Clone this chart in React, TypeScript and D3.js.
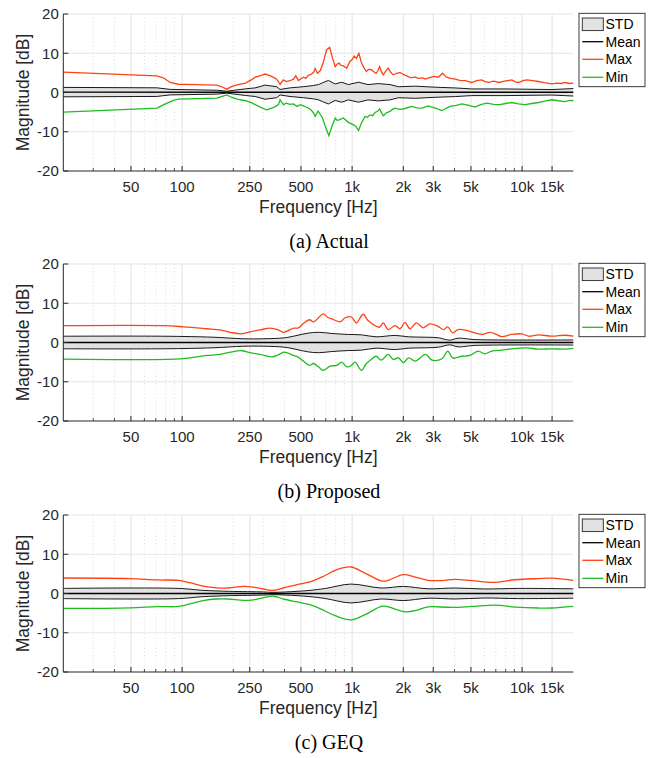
import * as d3 from 'd3'

// frequency [Hz] / magnitude [dB] pairs
const maxA: [number, number][] = [
  [20, 5.2], [71, 4.25], [78, 3.7], [85, 2.55], [95, 2.1], [120, 2.0], [160, 1.9], [172, 1.4], [183, 0.85],
  [195, 1.5], [210, 1.95], [236, 2.4], [255, 3.2], [269, 3.9], [290, 4.3], [308, 4.7], [322, 4.4], [336, 4.1],
  [360, 3.4], [377, 2.1], [394, 3.2], [410, 2.8], [430, 3.0], [452, 3.4], [466, 4.25], [483, 3.05],
  [500, 3.5], [517, 3.9], [535, 3.6], [550, 4.3], [578, 4.7], [595, 5.2], [606, 6.1],
  [624, 4.9], [650, 5.6], [675, 7.5], [695, 9.6], [708, 10.9], [737, 11.5], [767, 8.75], [795, 6.6], [815, 7.2], [838, 7.5],
  [860, 6.9], [888, 6.8], [928, 6.2], [970, 7.9], [1000, 8.4], [1028, 9.3], [1060, 8.7], [1096, 10.0], [1135, 7.6],
  [1170, 6.4], [1212, 5.35], [1250, 5.9], [1296, 5.8], [1340, 5.3], [1384, 4.9], [1420, 5.6], [1450, 6.6],
  [1490, 5.2], [1525, 4.5], [1580, 5.5], [1630, 6.2], [1690, 5.1], [1745, 4.5], [1830, 4.9], [1914, 5.1],
  [2000, 4.6], [2095, 4.25], [2200, 3.8], [2352, 3.9], [2450, 3.6], [2600, 3.7], [2703, 3.4], [2850, 3.8],
  [3032, 4.1], [3220, 3.9], [3400, 4.9], [3590, 3.9], [3800, 3.6], [4038, 3.4], [4300, 3.1],
  [4640, 3.05], [4850, 2.8], [5056, 2.55], [5400, 3.0], [5790, 3.2], [6050, 2.8], [6340, 2.6],
  [6800, 2.9], [7290, 2.55], [7900, 2.9], [8690, 3.2], [9100, 2.7], [9530, 2.55], [10100, 3.0],
  [10670, 3.2], [11500, 3.0], [12470, 2.8], [13500, 2.5], [14970, 2.2], [16000, 2.4],
  [17000, 2.3], [17870, 2.55], [19000, 2.3], [20000, 2.4],
]
const minA: [number, number][] = [
  [20, -5.0], [71, -4.0], [78, -3.1], [89, -2.0], [95, -1.7], [160, -1.45], [172, -1.0], [183, -0.6],
  [195, -1.2], [210, -1.7], [236, -2.1], [255, -2.6], [269, -3.1], [290, -3.8], [314, -4.4], [330, -4.1],
  [346, -3.8], [369, -3.1], [377, -1.85], [394, -3.1], [410, -2.7], [430, -3.0], [452, -2.9], [474, -3.55],
  [495, -3.1], [517, -3.4], [535, -3.7], [550, -3.9], [578, -4.6], [595, -5.3],
  [606, -6.1], [630, -4.7], [670, -6.5], [690, -8.2], [708, -9.5], [730, -11.0], [760, -8.65], [795, -6.5],
  [815, -7.1], [838, -6.95], [888, -6.5], [950, -7.6], [1014, -8.2], [1050, -8.6], [1090, -9.7], [1135, -7.8], [1190, -6.1],
  [1230, -6.3], [1274, -5.7], [1320, -5.9], [1363, -5.1], [1410, -4.8], [1450, -4.2], [1490, -5.2], [1525, -5.9],
  [1600, -5.1], [1670, -4.8], [1730, -4.3], [1790, -4.0], [1900, -4.3],
  [2004, -4.2], [2240, -3.55], [2400, -3.9], [2578, -4.0], [2800, -3.4], [3090, -4.0],
  [3374, -4.6], [3758, -3.55], [4100, -3.3], [4420, -2.9], [4800, -3.2], [5275, -3.7],
  [5700, -3.1], [6200, -2.7], [6800, -3.0], [7410, -3.1], [8000, -2.8], [8690, -2.55],
  [9500, -2.9], [10410, -3.1], [11400, -2.8], [12470, -2.55], [13600, -2.2], [14970, -1.85],
  [16300, -2.1], [17870, -2.3], [19000, -2.0], [20000, -2.1],
]
const stdA: [number, number][] = [
  [20, 1.2], [71, 1.1], [85, 0.7], [160, 0.5], [183, 0.25], [236, 0.85], [269, 1.1], [308, 1.8],
  [360, 1.4], [377, 0.7], [431, 1.1], [517, 1.4], [592, 1.7], [634, 1.95], [670, 2.4], [725, 3.0],
  [795, 2.1], [868, 2.55], [950, 1.95], [1090, 2.55], [1240, 1.95], [1425, 2.2], [1670, 1.95],
  [1875, 1.4], [2352, 1.55], [3032, 1.3], [4038, 1.1], [5056, 0.85], [7930, 0.85],
  [14970, 0.7], [20000, 0.95],
]
const maxB: [number, number][] = [
  [20, 4.3], [78, 4.3], [102, 4.0], [140, 3.5], [167, 3.2], [192, 2.6], [224, 2.2], [251, 2.7],
  [287, 3.2], [329, 3.65], [368, 3.2], [394, 2.6], [452, 3.65], [483, 3.7], [517, 4.85],
  [561, 5.8], [592, 5.25], [634, 6.3], [675, 7.3], [725, 6.3], [777, 5.85], [850, 5.25],
  [910, 6.3], [990, 6.5], [1060, 5.0], [1160, 7.2], [1240, 5.6], [1363, 4.3], [1450, 3.9],
  [1525, 5.0], [1630, 3.3], [1790, 4.3], [1914, 3.5], [2043, 5.15], [2190, 3.5], [2394, 5.0],
  [2619, 3.75], [2870, 4.75], [3146, 4.3], [3450, 3.3], [3650, 4.0], [3900, 2.45], [4197, 3.3],
  [4883, 2.9], [5275, 2.45], [5790, 2.05], [6480, 2.6], [7050, 2.05], [7580, 1.5], [8690, 2.05],
  [9960, 2.2], [10900, 1.6], [12470, 1.95], [14970, 1.6], [17870, 1.85], [20000, 1.6],
]
const minB: [number, number][] = [
  [20, -4.25], [90, -4.25], [111, -3.9], [140, -3.3], [167, -3.05], [192, -2.45], [224, -2.1],
  [251, -2.6], [287, -3.05], [336, -3.65], [368, -3.15], [397, -2.45], [452, -3.3], [483, -3.8],
  [517, -4.75], [561, -5.85], [592, -5.35], [634, -6.2], [675, -7.1], [743, -6.0], [813, -5.85],
  [868, -5.0], [928, -6.2], [990, -5.85], [1042, -5.0], [1135, -7.1], [1212, -5.35],
  [1296, -4.3], [1384, -3.5], [1484, -4.5], [1630, -3.05], [1745, -4.3], [1875, -3.9],
  [2004, -5.15], [2145, -3.9], [2352, -4.75], [2703, -3.05], [2950, -4.5], [3374, -4.15],
  [3650, -2.2], [3900, -3.9], [4420, -3.5], [4930, -3.3], [5530, -2.2], [6020, -2.9],
  [6620, -2.2], [7580, -1.95], [8690, -1.6], [10670, -1.35], [12470, -1.7], [14970, -1.6],
  [17870, -1.7], [20000, -1.5],
]
const stdB: [number, number][] = [
  [20, 1.6], [78, 1.6], [152, 1.35], [230, 0.95], [300, 0.95], [400, 1.2], [474, 1.8],
  [552, 2.4], [640, 2.6], [760, 2.3], [950, 2.05], [1135, 1.95], [1384, 1.45], [1790, 1.8],
  [2145, 1.45], [2703, 1.35], [3220, 1.2], [3758, 0.6], [4197, 1.1], [5275, 0.75],
  [20000, 0.65],
]
const maxC: [number, number][] = [
  [20, 3.95], [49.5, 3.8], [71, 3.45], [95, 3.35], [111, 2.75], [133, 1.9], [160, 1.45],
  [187, 1.4], [230, 1.8], [263, 1.6], [301, 1.15], [346, 0.8], [394, 1.4], [474, 2.25],
  [565, 2.95], [680, 4.4], [795, 5.9], [982, 6.75], [1190, 5.2], [1484, 3.2], [1590, 3.2],
  [2004, 4.8], [2352, 4.2], [2800, 3.35], [3374, 3.3], [4038, 3.6], [5056, 3.3], [6940, 2.85],
  [9100, 3.5], [12470, 3.8], [14970, 3.9], [20000, 3.35],
]
const minC: [number, number][] = [
  [20, -3.8], [49.5, -3.65], [71, -3.35], [95, -3.3], [111, -2.65], [133, -1.8], [160, -1.4],
  [187, -1.4], [230, -1.75], [263, -1.6], [301, -1.05], [346, -0.7], [394, -1.4], [474, -2.15],
  [565, -2.85], [680, -4.3], [795, -5.65], [990, -6.7], [1190, -5.4], [1484, -3.3],
  [1590, -3.3], [2043, -4.65], [2450, -4.15], [2800, -3.4], [3850, -3.55], [5056, -3.3],
  [6940, -2.95], [9100, -3.45], [12470, -3.7], [14970, -3.7], [20000, -3.3],
]
const stdC: [number, number][] = [
  [20, 1.3], [95, 1.3], [133, 0.8], [190, 0.55], [301, 0.4], [346, 0.3], [474, 0.55],
  [565, 0.8], [700, 1.3], [982, 2.4], [1484, 1.4], [2004, 1.8], [2800, 1.2], [4038, 1.4],
  [6000, 1.15], [9530, 1.3], [20000, 1.2],
]
const meanA: [number, number][] = [[20, 0.1], [20000, 0.05]]
const meanB: [number, number][] = [[20, 0.0], [20000, 0.0]]
const meanC: [number, number][] = [[20, 0.0], [20000, 0.0]]

const FREQ_TICKS = [50, 100, 250, 500, 1000, 2000, 3000, 5000, 10000, 15000]
const FREQ_LABELS = ['50', '100', '250', '500', '1k', '2k', '3k', '5k', '10k', '15k']
const DB_TICKS = [-20, -10, 0, 10, 20]
const LEGEND = ['STD', 'Mean', 'Max', 'Min']
const CAPTIONS = ['(a) Actual', '(b) Proposed', '(c) GEQ']

const W = 654
const H = 758
const LEFT = 63.3
const RIGHT = 573.3
const TOP = 14
const BOTTOM = 171
const OFFSETS = [0, 250, 501]
const RED = '#ff4216'
const GREEN = '#1fbd1f'
const AX = '#262626'
const SANS = '"Liberation Sans", Arial, Helvetica, sans-serif'

type Series = [number, number][]

const x = d3.scaleLog().domain([20, 20000]).range([LEFT, RIGHT])
const y = d3.scaleLinear().domain([-20, 20]).range([BOTTOM, TOP])
const minorTicks = x.ticks().filter((t) => !FREQ_TICKS.includes(t) && t > 20 && t < 20000)

const Panel = ({
  offset, maxS, minS, stdS, meanS, caption, smooth,
}: {
  offset: number; maxS: Series; minS: Series; stdS: Series; meanS: Series; caption: string; smooth: boolean
}) => {
  const curve = smooth ? d3.curveCatmullRom.alpha(0.5) : d3.curveLinear
  const meanAt = d3.scaleLog().domain(meanS.map((d) => d[0])).range(meanS.map((d) => d[1]))
  const line = d3.line<[number, number]>().x((d) => x(d[0])).y((d) => y(d[1])).curve(curve)
  const area = d3.area<[number, number]>()
    .x((d) => x(d[0]))
    .y0((d) => y(meanAt(d[0]) - d[1]))
    .y1((d) => y(meanAt(d[0]) + d[1]))
    .curve(curve)
  const upper = stdS.map((d) => [d[0], meanAt(d[0]) + d[1]] as [number, number])
  const lower = stdS.map((d) => [d[0], meanAt(d[0]) - d[1]] as [number, number])
  const lx = 582.3
  const legY = [24.3, 41.7, 59.3, 77.3]

  return (
    <g transform={`translate(0, ${offset})`}>
      {/* grid */}
      {minorTicks.map((t) => (
        <line key={'m' + t} x1={x(t)} x2={x(t)} y1={TOP} y2={BOTTOM} stroke="#d4d4d4" strokeWidth={0.8} strokeDasharray="1 2.5" />
      ))}
      {FREQ_TICKS.map((t) => (
        <line key={'g' + t} x1={x(t)} x2={x(t)} y1={TOP} y2={BOTTOM} stroke="#e6e6e6" strokeWidth={1.2} />
      ))}
      {DB_TICKS.filter((t) => t > -20).map((t) => (
        <line key={'gy' + t} x1={LEFT} x2={RIGHT} y1={y(t)} y2={y(t)} stroke="#e6e6e6" strokeWidth={1.2} />
      ))}

      {/* data */}
      <path d={area(stdS) ?? ''} fill="#e2e2e2" />
      <path d={line(upper) ?? ''} fill="none" stroke="#000" strokeWidth={0.9} />
      <path d={line(lower) ?? ''} fill="none" stroke="#000" strokeWidth={0.9} />
      <path d={line(meanS) ?? ''} fill="none" stroke="#000" strokeWidth={1.4} />
      <path d={line(maxS) ?? ''} fill="none" stroke={RED} strokeWidth={1.3} />
      <path d={line(minS) ?? ''} fill="none" stroke={GREEN} strokeWidth={1.3} />

      {/* axes */}
      <line x1={LEFT} x2={LEFT} y1={TOP} y2={BOTTOM} stroke={AX} strokeWidth={1} />
      <line x1={LEFT} x2={RIGHT} y1={BOTTOM} y2={BOTTOM} stroke={AX} strokeWidth={1} />
      {DB_TICKS.map((t) => (
        <g key={'yt' + t}>
          <line x1={LEFT} x2={LEFT + 5} y1={y(t)} y2={y(t)} stroke={AX} />
          <text x={LEFT - 4.5} y={y(t)} dy="0.35em" textAnchor="end" fontSize={15} fill={AX} fontFamily={SANS}>{t}</text>
        </g>
      ))}
      {minorTicks.map((t) => (
        <line key={'mt' + t} x1={x(t)} x2={x(t)} y1={BOTTOM} y2={BOTTOM - 3} stroke={AX} strokeWidth={0.8} />
      ))}
      {FREQ_TICKS.map((t, i) => (
        <g key={'xt' + t}>
          <line x1={x(t)} x2={x(t)} y1={BOTTOM} y2={BOTTOM - 5} stroke={AX} />
          <text x={x(t)} y={BOTTOM + 21} textAnchor="middle" fontSize={15} fill={AX} fontFamily={SANS}>{FREQ_LABELS[i]}</text>
        </g>
      ))}
      <text x={(LEFT + RIGHT) / 2} y={BOTTOM + 42} textAnchor="middle" fontSize={17.5} fill={AX} fontFamily={SANS}>Frequency [Hz]</text>
      <text transform={`translate(28.5, ${(TOP + BOTTOM) / 2}) rotate(-90)`} textAnchor="middle" fontSize={17.5} fill={AX} fontFamily={SANS}>Magnitude [dB]</text>

      {/* legend */}
      <rect x={579} y={13.3} width={66} height={73.4} fill="#fff" stroke={AX} strokeWidth={0.9} />
      <rect x={lx} y={legY[0] - 6.3} width={21} height={12.6} fill="#e2e2e2" stroke={AX} strokeWidth={0.9} />
      <line x1={lx} x2={lx + 21} y1={legY[1]} y2={legY[1]} stroke="#000" strokeWidth={1.3} />
      <line x1={lx} x2={lx + 21} y1={legY[2]} y2={legY[2]} stroke={RED} strokeWidth={1.3} />
      <line x1={lx} x2={lx + 21} y1={legY[3]} y2={legY[3]} stroke={GREEN} strokeWidth={1.3} />
      {LEGEND.map((name, i) => (
        <text key={name} x={605.5} y={legY[i]} dy="0.36em" fontSize={14} fill="#000" fontFamily={SANS}>{name}</text>
      ))}

      <text x={329} y={248} textAnchor="middle" fontSize={20} fill="#000" fontFamily='"Liberation Serif", "Times New Roman", serif'>{caption}</text>
    </g>
  )
}

export default function App() {
  return (
    <svg width={W} height={H} style={{ position: 'absolute', left: 0, top: 0, background: '#fff' }}>
      <Panel offset={OFFSETS[0]} maxS={maxA} minS={minA} stdS={stdA} meanS={meanA} caption={CAPTIONS[0]} smooth={false} />
      <Panel offset={OFFSETS[1]} maxS={maxB} minS={minB} stdS={stdB} meanS={meanB} caption={CAPTIONS[1]} smooth={true} />
      <Panel offset={OFFSETS[2]} maxS={maxC} minS={minC} stdS={stdC} meanS={meanC} caption={CAPTIONS[2]} smooth={true} />
    </svg>
  )
}
